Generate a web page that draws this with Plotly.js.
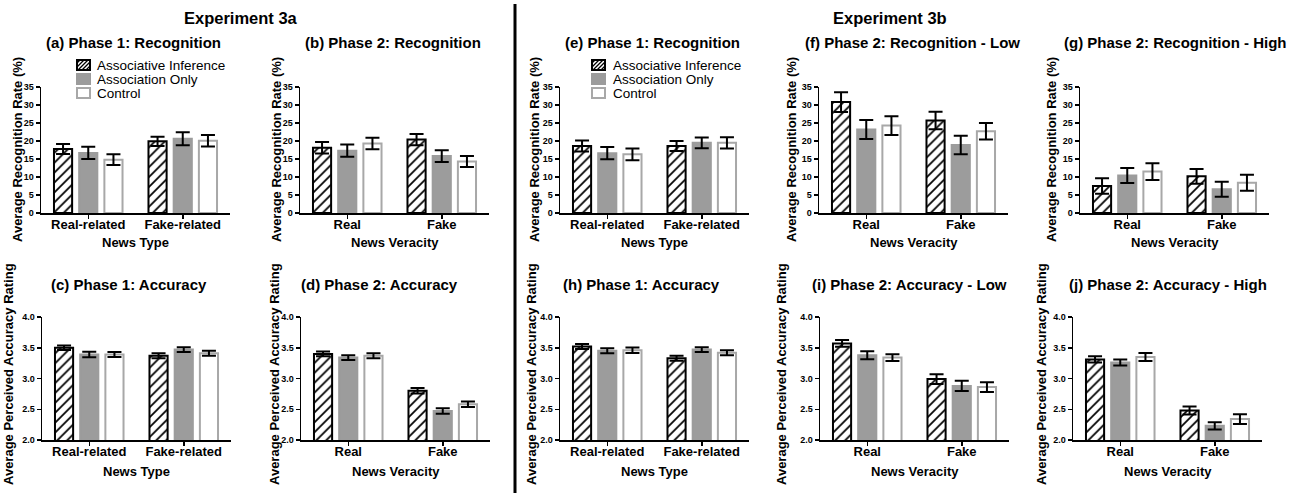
<!DOCTYPE html>
<html>
<head>
<meta charset="utf-8">
<script src="https://cdn.plot.ly/plotly-3.0.1.min.js"></script>
<style>html,body{margin:0;padding:0;background:#fff;}#chart{width:1291px;height:496px;}</style>
</head>
<body>
<div id="chart"></div>
<script>
// ---------------- DATA ----------------
const groups = ['Associative Inference', 'Association Only', 'Control'];
const newsType = ['Real-related', 'Fake-related'];
const newsVeracity = ['Real', 'Fake'];

// Experiment 3a
// (a) Phase 1: Recognition  [AI, AO, Control] x [Real-related, Fake-related]
const aMeans = [[17.8, 19.9], [16.7, 20.6], [14.8, 20.1]];
const aErr   = [[1.4, 1.3], [1.7, 1.8], [1.5, 1.6]];
// (b) Phase 2: Recognition
const bMeans = [[18.1, 20.4], [17.3, 15.8], [19.3, 14.3]];
const bErr   = [[1.6, 1.55], [1.7, 1.65], [1.6, 1.55]];
// (c) Phase 1: Accuracy
const cMeans = [[3.50, 3.37], [3.39, 3.47], [3.39, 3.41]];
const cErr   = [[0.035, 0.04], [0.045, 0.04], [0.04, 0.04]];
// (d) Phase 2: Accuracy
const dMeans = [[3.40, 2.80], [3.34, 2.47], [3.37, 2.58]];
const dErr   = [[0.04, 0.045], [0.04, 0.045], [0.04, 0.045]];

// Experiment 3b
// (e) Phase 1: Recognition
const eMeans = [[18.6, 18.6], [16.6, 19.5], [16.3, 19.5]];
const eErr   = [[1.55, 1.4], [1.7, 1.5], [1.65, 1.55]];
// (f) Phase 2: Recognition - Low
const fMeans = [[30.8, 25.7], [23.2, 18.9], [24.3, 22.7]];
const fErr   = [[2.75, 2.45], [2.65, 2.55], [2.6, 2.3]];
// (g) Phase 2: Recognition - High
const gMeans = [[7.5, 10.2], [10.4, 6.6], [11.5, 8.4]];
const gErr   = [[2.15, 2.05], [2.1, 2.1], [2.35, 2.2]];
// (h) Phase 1: Accuracy
const hMeans = [[3.52, 3.33], [3.45, 3.47], [3.46, 3.42]];
const hErr   = [[0.04, 0.04], [0.04, 0.04], [0.045, 0.04]];
// (i) Phase 2: Accuracy - Low
const iMeans = [[3.57, 2.99], [3.38, 2.88], [3.34, 2.86]];
const iErr   = [[0.055, 0.08], [0.065, 0.085], [0.055, 0.08]];
// (j) Phase 2: Accuracy - High
const jMeans = [[3.31, 2.48], [3.26, 2.23], [3.35, 2.34]];
const jErr   = [[0.05, 0.065], [0.05, 0.06], [0.065, 0.08]];

// ---------------- LAYOUT HELPERS ----------------
const W = 1291, H = 496;
const px = x => x / W;
const py = y => 1 - y / H;
const FONT = 'Arial, "Liberation Sans", sans-serif';

const recTitle = 'Average Recognition Rate (%)';
const accTitle = 'Average Perceived Accuracy Rating';

const panels = [
  {t: '(a) Phase 1: Recognition', m: aMeans, e: aErr, cats: newsType, xt: 'News Type', row: 0, x0: 41, tx: 133, yx: 17},
  {t: '(b) Phase 2: Recognition', m: bMeans, e: bErr, cats: newsVeracity, xt: 'News Veracity', row: 0, x0: 300, tx: 393, yx: 276},
  {t: '(e) Phase 1: Recognition', m: eMeans, e: eErr, cats: newsType, xt: 'News Type', row: 0, x0: 560, tx: 652, yx: 534},
  {t: '(f) Phase 2: Recognition - Low', m: fMeans, e: fErr, cats: newsVeracity, xt: 'News Veracity', row: 0, x0: 819, tx: 913, yx: 791},
  {t: '(g) Phase 2: Recognition - High', m: gMeans, e: gErr, cats: newsVeracity, xt: 'News Veracity', row: 0, x0: 1080, tx: 1175, yx: 1051},
  {t: '(c) Phase 1: Accuracy', m: cMeans, e: cErr, cats: newsType, xt: 'News Type', row: 1, x0: 42, tx: 129, yx: 8},
  {t: '(d) Phase 2: Accuracy', m: dMeans, e: dErr, cats: newsVeracity, xt: 'News Veracity', row: 1, x0: 301, tx: 379, yx: 274},
  {t: '(h) Phase 1: Accuracy', m: hMeans, e: hErr, cats: newsType, xt: 'News Type', row: 1, x0: 560, tx: 641, yx: 531},
  {t: '(i) Phase 2: Accuracy - Low', m: iMeans, e: iErr, cats: newsVeracity, xt: 'News Veracity', row: 1, x0: 820, tx: 909, yx: 781},
  {t: '(j) Phase 2: Accuracy - High', m: jMeans, e: jErr, cats: newsVeracity, xt: 'News Veracity', row: 1, x0: 1073, tx: 1168, yx: 1041}
];
const PW = 189;
const rows = [
  {top: 87, bot: 213, range: [0, 35], dtick: 5, fmt: 'd', yt: recTitle, ty: 42, xty: 242, yty: 150},
  {top: 317, bot: 440, range: [2, 4], dtick: 0.5, fmt: '.1f', yt: accTitle, ty: 284, xty: 471, yty: 374}
];

const styles = [
  {color: 'white', pattern: {shape: '/', fgcolor: 'black', bgcolor: 'white', size: 7, solidity: 0.25, fillmode: 'replace'}, line: {color: 'black', width: 2}},
  {color: '#9c9c9c', line: {color: '#9c9c9c', width: 2}},
  {color: 'white', line: {color: '#a8a8a8', width: 2}}
];

const traces = [];
const layout = {
  width: W, height: H,
  margin: {l: 0, r: 0, t: 0, b: 0},
  paper_bgcolor: 'white', plot_bgcolor: 'rgba(0,0,0,0)',
  showlegend: false,
  barmode: 'group', bargap: 0.2, bargroupgap: 0.28,
  font: {family: FONT, color: 'black'},
  annotations: [], shapes: []
};

panels.forEach((p, k) => {
  const n = k + 1;
  const sfx = n === 1 ? '' : String(n);
  const r = rows[p.row];
  groups.forEach((g, gi) => {
    const st = styles[gi];
    traces.push({
      type: 'bar', name: g, x: p.cats, y: p.m[gi],
      xaxis: 'x' + sfx, yaxis: 'y' + sfx,
      marker: {color: st.color, pattern: st.pattern, line: st.line},
      error_y: {type: 'data', array: p.e[gi], visible: true, color: 'black', thickness: 2, width: 7},
      hoverinfo: 'skip', showlegend: false
    });
  });
  layout['xaxis' + sfx] = {
    domain: [px(p.x0), px(p.x0 + PW)], anchor: 'y' + sfx,
    type: 'category', range: [-0.5, 1.5],
    showline: true, linecolor: 'black', linewidth: 1.5,
    ticks: 'outside', ticklen: 4, tickwidth: 1.5, tickcolor: 'black',
    ticklabelstandoff: -5,
    tickfont: {size: 13, family: FONT, weight: 'bold', color: 'black'},
    showgrid: false, zeroline: false, fixedrange: true
  };
  layout['yaxis' + sfx] = {
    domain: [py(r.bot), py(r.top)], anchor: 'x' + sfx,
    range: r.range, dtick: r.dtick, tick0: r.range[0], tickformat: r.fmt,
    showline: true, linecolor: 'black', linewidth: 1.5,
    ticks: 'outside', ticklen: 4, tickwidth: 1.5, tickcolor: 'black',
    tickfont: {size: 9, family: FONT, weight: 'bold', color: 'black'},
    showgrid: false, zeroline: false, fixedrange: true
  };
  // panel title
  layout.annotations.push({text: p.t, xref: 'paper', yref: 'paper', x: px(p.tx), y: py(r.ty),
    xanchor: 'center', yanchor: 'middle', showarrow: false,
    font: {size: 15, family: FONT, weight: 'bold', color: 'black'}});
  // x-axis title
  layout.annotations.push({text: p.xt, xref: 'paper', yref: 'paper', x: px(p.x0 + PW / 2), y: py(r.xty),
    xanchor: 'center', yanchor: 'middle', showarrow: false,
    font: {size: 13, family: FONT, weight: 'bold', color: 'black'}});
  // y-axis title
  layout.annotations.push({text: r.yt, xref: 'paper', yref: 'paper', x: px(p.yx), y: py(r.yty),
    xanchor: 'center', yanchor: 'middle', textangle: -90, showarrow: false,
    font: {size: 13, family: FONT, weight: 'bold', color: 'black'}});
});

// Experiment headers
[['Experiment 3a', 241], ['Experiment 3b', 890]].forEach(([t, x]) => {
  layout.annotations.push({text: t, xref: 'paper', yref: 'paper', x: px(x), y: py(18),
    xanchor: 'center', yanchor: 'middle', showarrow: false,
    font: {size: 16.5, family: FONT, weight: 'bold', color: 'black'}});
});

// Divider between experiments
layout.shapes.push({type: 'line', xref: 'paper', yref: 'paper', x0: px(515), x1: px(515), y0: py(4), y1: py(493),
  line: {color: 'black', width: 3}});

// Legends (in panels a and e)
function legend(bx, tx) {
  const rowsY = [65, 79, 93];
  const bw = 13, bh = 10;
  rowsY.forEach((cy, gi) => {
    const x0 = bx, x1 = bx + bw, y0 = cy - bh / 2, y1 = cy + bh / 2;
    const st = styles[gi];
    layout.shapes.push({type: 'rect', xref: 'paper', yref: 'paper', x0: px(x0), x1: px(x1), y0: py(y1), y1: py(y0),
      fillcolor: st.color, line: {color: st.line.color, width: 2}});
    if (gi === 0) {
      let path = '';
      for (let s = -bh + 3; s < bw; s += 4) {
        let ax = x0 + s, ay = y1, bx2 = x0 + s + bh, by = y0;
        if (ax < x0) { ay = y1 - (x0 - ax); ax = x0; }
        if (bx2 > x1) { by = y0 + (bx2 - x1); bx2 = x1; }
        path += `M${px(ax)},${py(ay)} L${px(bx2)},${py(by)} `;
      }
      layout.shapes.push({type: 'path', xref: 'paper', yref: 'paper', path: path, line: {color: 'black', width: 1.3}});
    }
    layout.annotations.push({text: groups[gi], xref: 'paper', yref: 'paper', x: px(tx), y: py(cy),
      xanchor: 'left', yanchor: 'middle', showarrow: false,
      font: {size: 13.5, family: FONT, color: 'black'}});
  });
}
legend(77, 95);
legend(592, 611);

Plotly.newPlot('chart', traces, layout, {staticPlot: true, displayModeBar: false});
</script>
</body>
</html>
